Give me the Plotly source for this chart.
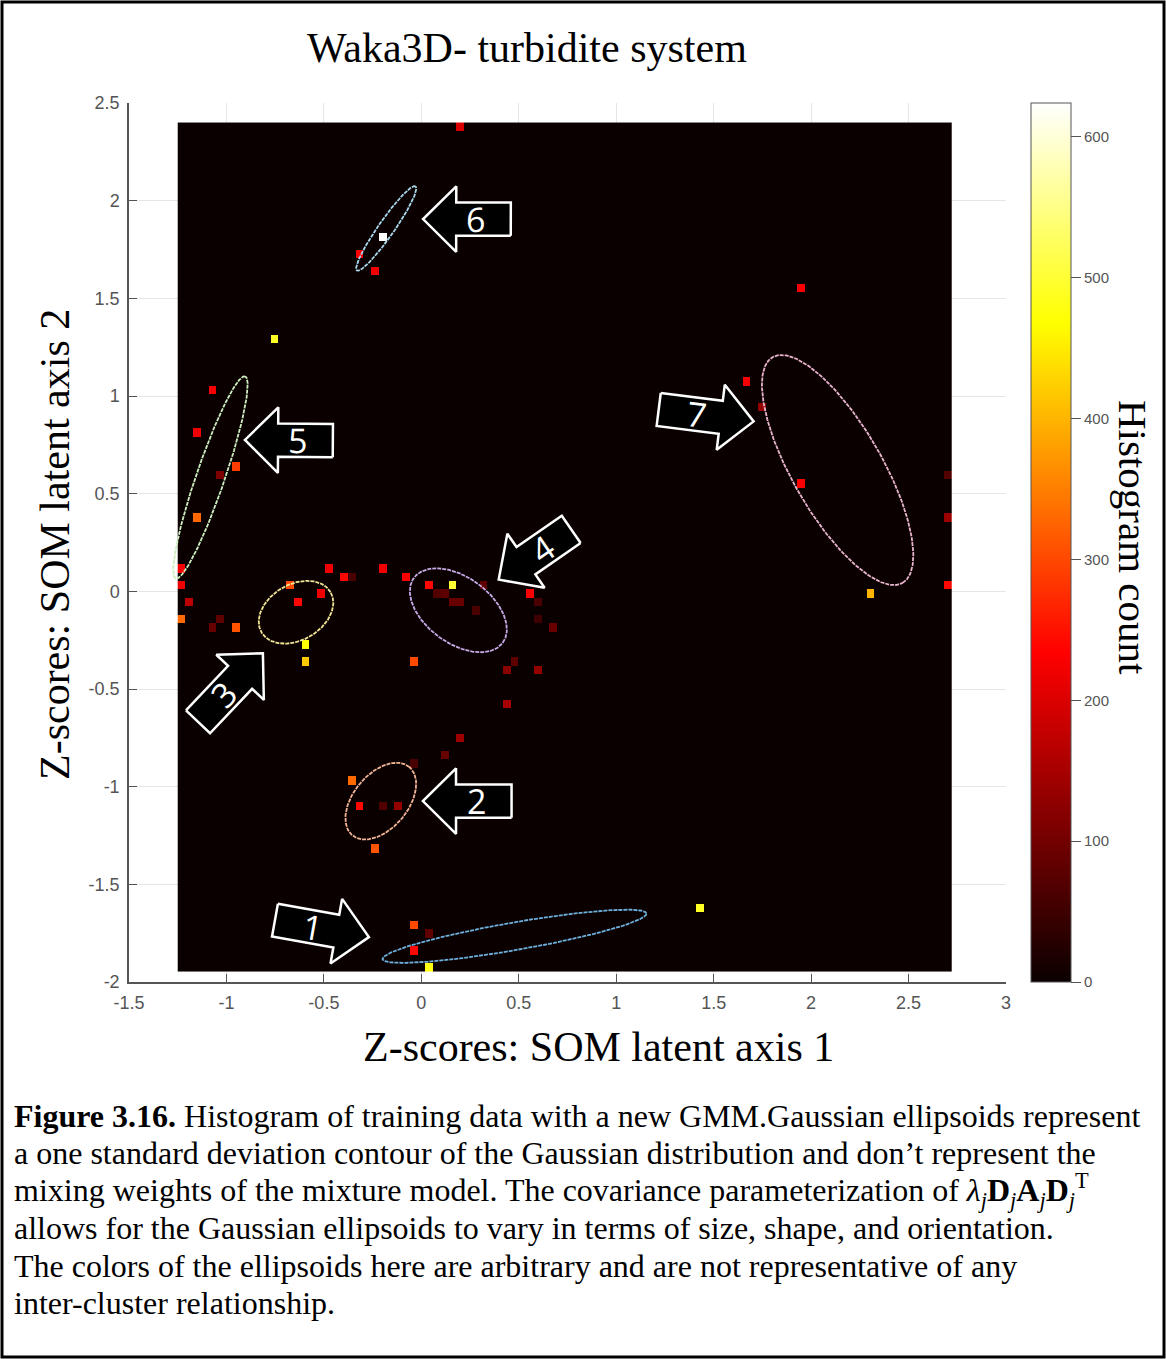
import numpy as np
import plotly.graph_objects as go

# ---------------- data ----------------
hist_x_range = [-1.25, 2.72]
hist_y_range = [-1.944, 2.40]
n_bins = 100
count_max = 624

# non-empty histogram bins (bin centre coordinates, count)
hit_x = [0.194, -0.322, -0.199, -0.242, -0.756, -1.071, -1.150, -0.951, -1.03, -1.15,
         1.941, 1.664, 1.745, 1.941, 2.30, 2.693, 2.693, 2.693, 0.674, -1.23,
         -1.23, -1.19, -1.23, -1.067, -1.033, -0.953, -0.674, -0.635, -0.515, -0.478,
         -0.396, -0.199, -0.079, -0.594, -0.594, 0.038, 0.158, -0.042, 0.556, 0.437,
         0.59, 0.433, 0.197, 0.121, -0.038, -0.358, -0.319, -0.122, -0.196, -0.242,
         -0.042, -0.042, 0.033, 0.044, 1.428, 0.12, 0.158, 0.197, 0.274, 0.317,
         0.599, 0.471, -0.358, 0.095, 0.599]
hit_y = [2.373, 1.724, 1.812, 1.637, 1.291, 1.028, 0.812, 0.636, 0.59, 0.377,
         1.551, 1.074, 0.943, 0.551, -0.012, 0.031, 0.38, 0.593, -0.183, 0.116,
         0.031, -0.055, -0.145, -0.186, -0.14, -0.186, 0.031, -0.055, -0.012, 0.116,
         0.073, 0.116, 0.077, -0.276, -0.362, 0.031, 0.031, -0.362, -0.012, -0.404,
         -0.404, -0.574, -0.753, -0.839, -0.881, -0.967, -1.10, -1.10, -1.10, -1.316,
         -1.705, -1.836, -1.748, -1.922, -1.616, -0.012, -0.055, -0.055, -0.097, 0.031,
         -0.055, -0.362, 0.073, -0.02, -0.14]
hit_count = [200, 230, 624, 220, 490, 230, 220, 290, 110, 330,
             230, 230, 130, 230, 400, 240, 140, 70, 90, 230,
             220, 170, 330, 90, 80, 310, 300, 240, 220, 220,
             240, 220, 230, 470, 420, 240, 500, 300, 230, 120,
             130, 150, 140, 90, 60, 330, 240, 130, 70, 310,
             300, 240, 80, 480, 490, 80, 90, 90, 60, 80,
             60, 80, 60, 70, 50]

# Gaussian one-sigma ellipses (GMM components 1..7)
ell_cx = [0.478, -0.208, -0.643, 0.19, -1.082, -0.18, 2.136]
ell_cy = [-1.766, -1.074, -0.107, -0.097, 0.583, 1.858, 0.621]
ell_a = [0.687, 0.228, 0.205, 0.282, 0.547, 0.263, 0.667]
ell_b = [0.071, 0.140, 0.143, 0.169, 0.073, 0.041, 0.230]
ell_deg = [9.8, 50, 30, -36, 71, 55, -60]

# annotation arrows (tail -> tip) and their labels
arrow_labels = ["1", "2", "3", "4", "5", "6", "7"]
arrow_tail = [(-0.751, -1.683), (0.463, -1.074), (-1.146, -0.668), (0.769, 0.317),
              (-0.454, 0.772), (0.459, 1.905), (1.218, 0.931)]
arrow_tip = [(-0.269, -1.770), (0.008, -1.074), (-0.813, -0.317), (0.397, 0.060),
             (-0.905, 0.775), (0.009, 1.906), (1.705, 0.870)]

x_ticks = [-1.5, -1, -0.5, 0, 0.5, 1, 1.5, 2, 2.5, 3]
x_ticktext = ["-1.5", "-1", "-0.5", "0", "0.5", "1", "1.5", "2", "2.5", "3"]
y_ticks = [-2, -1.5, -1, -0.5, 0, 0.5, 1, 1.5, 2, 2.5]
y_ticktext = ["-2", "-1.5", "-1", "-0.5", "0", "0.5", "1", "1.5", "2", "2.5"]
cb_ticks = [0, 100, 200, 300, 400, 500, 600]

ell_colors = ["rgb(110,175,220)", "rgb(240,180,150)", "rgb(240,228,150)",
              "rgb(200,170,230)", "rgb(205,238,190)", "rgb(170,215,235)",
              "rgb(232,180,205)"]

caption_lines = [
    "<b>Figure 3.16.</b> Histogram of training data with a new GMM.Gaussian ellipsoids represent",
    "a one standard deviation contour of the Gaussian distribution and don\u2019t represent the",
    "mixing weights of the mixture model. The covariance parameterization of "
    "<i>\u03bb<sub>j</sub></i><b>D</b><sub><i>j</i></sub><b>A</b><sub><i>j</i></sub>"
    "<b>D</b><sub><i>j</i></sub><sup>T</sup>",
    "allows for the Gaussian ellipsoids to vary in terms of size, shape, and orientation.",
    "The colors of the ellipsoids here are arbitrary and are not representative of any",
    "inter-cluster relationship.",
]

# ---------------- layout geometry ----------------
W, H = 1166, 1359
PL, PR, PT, PB = 129, 1006, 103, 982  # plot area in pixels


def xp(px):
    return (px - PL) / (PR - PL)


def yp(py):
    return (PB - py) / (PB - PT)


# ---------------- build histogram grid ----------------
dx = (hist_x_range[1] - hist_x_range[0]) / n_bins
dy = (hist_y_range[1] - hist_y_range[0]) / n_bins
z = np.zeros((n_bins, n_bins))
for hx, hy, hc in zip(hit_x, hit_y, hit_count):
    ix = int(np.clip(np.floor((hx - hist_x_range[0]) / dx), 0, n_bins - 1))
    iy = int(np.clip(np.floor((hy - hist_y_range[0]) / dy), 0, n_bins - 1))
    z[iy, ix] = max(z[iy, ix], hc)

hot = [[0.0, "rgb(10,0,0)"], [0.375, "rgb(255,0,0)"],
       [0.75, "rgb(255,255,0)"], [1.0, "rgb(255,255,255)"]]

fig = go.Figure()
fig.add_trace(go.Heatmap(
    z=z, x0=hist_x_range[0] + dx / 2, dx=dx, y0=hist_y_range[0] + dy / 2, dy=dy,
    zmin=0, zmax=count_max, colorscale=hot, zsmooth=False, hoverinfo="skip",
    colorbar=dict(
        thickness=40, thicknessmode="pixels", len=1, lenmode="fraction",
        x=xp(1031), xanchor="left", xpad=0, y=0.5, yanchor="middle", ypad=0,
        outlinecolor="#555", outlinewidth=1,
        tickvals=cb_ticks, ticks="outside", ticklen=10, tickcolor="#555",
        tickfont=dict(family="Liberation Sans", size=15, color="#555"),
    ),
))

# ellipses
t = np.linspace(0, 2 * np.pi, 241)
for cx, cy, a, b, d, col in zip(ell_cx, ell_cy, ell_a, ell_b, ell_deg, ell_colors):
    th = np.deg2rad(d)
    ex = cx + a * np.cos(t) * np.cos(th) - b * np.sin(t) * np.sin(th)
    ey = cy + a * np.cos(t) * np.sin(th) + b * np.sin(t) * np.cos(th)
    fig.add_trace(go.Scatter(x=ex, y=ey, mode="lines",
                             line=dict(color=col, width=1.8, dash="4px,1px"),
                             hoverinfo="skip", showlegend=False))

# block arrows
HEAD_L, HEAD_W, SHAFT_W = 0.17, 0.168, 0.085
annotations = []
for lab, (tx, ty), (px_, py_) in zip(arrow_labels, arrow_tail, arrow_tip):
    tail = np.array([tx, ty])
    tip = np.array([px_, py_])
    u = (tip - tail) / np.linalg.norm(tip - tail)
    n = np.array([-u[1], u[0]])
    base = tip - u * HEAD_L
    pts = [tail + n * SHAFT_W, base + n * SHAFT_W, base + n * HEAD_W, tip,
           base - n * HEAD_W, base - n * SHAFT_W, tail - n * SHAFT_W, tail + n * SHAFT_W]
    fig.add_trace(go.Scatter(x=[p[0] for p in pts], y=[p[1] for p in pts],
                             mode="lines", fill="toself", fillcolor="black",
                             line=dict(color="white", width=2.5),
                             hoverinfo="skip", showlegend=False))
    c = tip + (tail - tip) * 0.6
    v = u if u[0] >= 0 else -u
    ang = -np.degrees(np.arctan2(v[1], v[0]))
    annotations.append(dict(x=c[0], y=c[1], xref="x", yref="y", text=lab,
                            xanchor="center", yanchor="middle",
                            showarrow=False, textangle=ang,
                            font=dict(family="Open Sans", size=34, color="white")))

# titles
serif = "Liberation Serif"
for txt, cx_, cy_, ang, sz in [
    ("Waka3D- turbidite system", 527, 48, 0, 42),
    ("Z-scores: SOM latent axis 1", 598, 1047, 0, 42),
    ("Z-scores: SOM latent axis 2", 55, 545, -90, 42),
    ("Histogram count", 1133, 537, 90, 41),
]:
    annotations.append(dict(x=xp(cx_), y=yp(cy_), xref="paper", yref="paper",
                            xanchor="center", yanchor="middle",
                            text=txt, showarrow=False, textangle=ang,
                            font=dict(family=serif, size=sz, color="black")))

# caption
cap_y = [1116, 1153, 1190, 1228, 1266, 1303]
for line, cy in zip(caption_lines, cap_y):
    annotations.append(dict(x=xp(12), y=yp(cy), xref="paper", yref="paper",
                            xanchor="left", yanchor="middle", text=line, showarrow=False,
                            font=dict(family=serif, size=32, color="black")))

axis_common = dict(ticks="inside", ticklen=8, tickcolor="#555", tickwidth=1.2,
                   showline=True, linecolor="#555", linewidth=1.5,
                   showgrid=True, gridcolor="#e6e6e6", gridwidth=1,
                   zeroline=False, mirror=False,
                   tickfont=dict(family="Liberation Sans", size=18, color="#555"))

fig.update_layout(
    width=W, height=H, autosize=False,
    margin=dict(l=PL, r=W - PR, t=PT, b=H - PB, pad=0),
    paper_bgcolor="white", plot_bgcolor="white",
    showlegend=False,
    xaxis=dict(range=[-1.5, 3], tickvals=x_ticks, ticktext=x_ticktext,
               ticklabelstandoff=4, **axis_common),
    yaxis=dict(range=[-2, 2.5], tickvals=y_ticks, ticktext=y_ticktext,
               ticklabelstandoff=4, **axis_common),
    annotations=annotations,
    shapes=[dict(type="rect", xref="paper", yref="paper",
                 x0=xp(2), x1=xp(1164), y0=yp(1357), y1=yp(2),
                 line=dict(color="black", width=3), fillcolor="rgba(0,0,0,0)",
                 layer="above")],
)

fig.write_html("out.html")
